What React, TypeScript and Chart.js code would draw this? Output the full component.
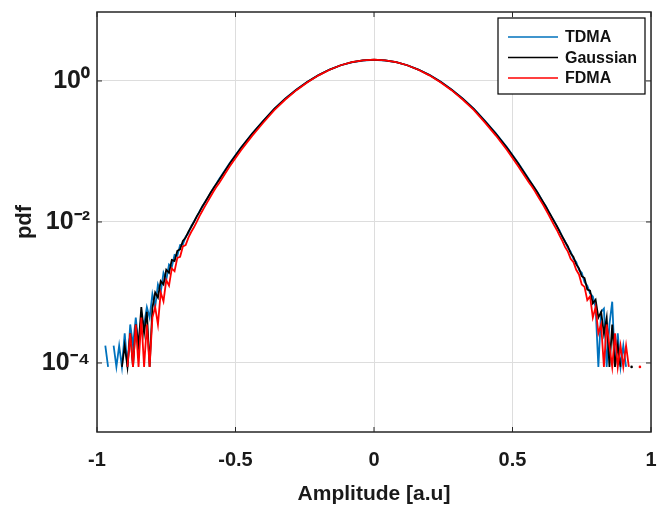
import { useEffect, useRef } from "react";
import { Chart, registerables } from "chart.js";

Chart.register(...registerables);

const FONT = "'Liberation Sans', Arial, Helvetica, sans-serif";

// ---- data ----
const seriesNames = ["TDMA", "Gaussian", "FDMA"];
const seriesColors = ["#0072BD", "#000000", "#FF0000"];

const xTickValues = [-1, -0.5, 0, 0.5, 1];
const xTickLabels = ["-1", "-0.5", "0", "0.5", "1"];
const yTickValues = [1e-4, 1e-2, 1];
const yTickLabels = ["10⁻⁴", "10⁻²", "10⁰"];

const xLeftTail = [-0.97, -0.96, -0.95, -0.94, -0.93, -0.92, -0.91, -0.9, -0.89, -0.88, -0.87, -0.86, -0.85, -0.84, -0.83, -0.82, -0.81, -0.8, -0.79, -0.78, -0.77, -0.76, -0.75, -0.74, -0.73, -0.72, -0.71, -0.7, -0.69, -0.68, -0.67, -0.66, -0.65, -0.64, -0.63, -0.62, -0.61, -0.6, -0.59, -0.58, -0.57];
const xBody = [-0.56, -0.52, -0.48, -0.44, -0.4, -0.36, -0.32, -0.28, -0.24, -0.2, -0.16, -0.12, -0.08, -0.04, 0, 0.04, 0.08, 0.12, 0.16, 0.2, 0.24, 0.28, 0.32, 0.36, 0.4, 0.44, 0.48, 0.52, 0.56];
const xRightTail = [0.57, 0.58, 0.59, 0.6, 0.61, 0.62, 0.63, 0.64, 0.65, 0.66, 0.67, 0.68, 0.69, 0.7, 0.71, 0.72, 0.73, 0.74, 0.75, 0.76, 0.77, 0.78, 0.79, 0.8, 0.81, 0.82, 0.83, 0.84, 0.85, 0.86, 0.87, 0.88, 0.89, 0.9, 0.91, 0.92, 0.93, 0.94, 0.95, 0.96, 0.97];

const tdmaLeft = [1.76e-4, 8.8e-5, null, 1.76e-4, 8.8e-5, 1.76e-4, 8.8e-5, 2.64e-4, 8.8e-5, 3.52e-4, 1.76e-4, 4.4e-4, 1.76e-4, 4.4e-4, 3.52e-4, 6.2e-4, 4.4e-4, 9.5e-4, 6.2e-4, 1.3e-3, 1.0e-3, 1.9e-3, 1.5e-3, 2.5e-3, 2.3e-3, 3.4e-3, 3.3e-3, 4.7e-3, 4.8e-3, 6.2e-3, 6.9e-3, 8.7e-3, 0.0101, 0.0118, 0.0141, 0.0163, 0.0192, 0.0221, 0.0258, 0.03, 0.0342];
const tdmaBody = [0.04, 0.069, 0.114, 0.18, 0.272, 0.4, 0.565, 0.755, 0.975, 1.21, 1.45, 1.67, 1.84, 1.95, 1.99, 1.95, 1.85, 1.67, 1.45, 1.22, 0.98, 0.755, 0.565, 0.405, 0.273, 0.18, 0.115, 0.069, 0.04];
const tdmaRight = [0.0346, 0.0302, 0.0263, 0.0226, 0.0192, 0.0168, 0.0142, 0.012, 0.0104, 0.0087, 0.0075, 0.0061, 0.0053, 0.0043, 0.0038, 0.003, 0.0027, 0.0021, 0.0019, 0.0014, 0.00125, 0.00097, 0.00088, 0.00062, 8.8e-5, 5.3e-4, 5.9e-4, 8.8e-5, 3.52e-4, 7.4e-4, 8.8e-5, 2.64e-4, 8.8e-5, 1.76e-4, 8.8e-5, null, null, null, null, null, null];

const gaussLeft = [null, null, null, null, null, null, 8.8e-5, 1.76e-4, 8.8e-5, 2.64e-4, 8.8e-5, 3.52e-4, 1.76e-4, 6.2e-4, 2.64e-4, 5.3e-4, 8.8e-5, 6.0e-4, 1.0e-3, 8.5e-4, 1.45e-3, 1.3e-3, 2.1e-3, 1.9e-3, 2.9e-3, 2.8e-3, 3.9e-3, 4.1e-3, 5.4e-3, 6.0e-3, 7.3e-3, 8.5e-3, 0.01, 0.012, 0.0139, 0.0166, 0.019, 0.0222, 0.026, 0.0298, 0.0344];
const gaussBody = [0.039, 0.068, 0.113, 0.178, 0.27, 0.4, 0.56, 0.75, 0.97, 1.21, 1.45, 1.67, 1.85, 1.96, 2.0, 1.96, 1.85, 1.67, 1.45, 1.21, 0.97, 0.75, 0.56, 0.4, 0.27, 0.178, 0.113, 0.068, 0.039];
const gaussRight = [0.0344, 0.03, 0.0262, 0.0224, 0.0193, 0.0166, 0.0141, 0.0121, 0.0102, 0.0088, 0.0073, 0.0062, 0.0052, 0.0045, 0.0036, 0.0032, 0.0025, 0.0022, 0.0017, 0.0016, 0.0011, 0.00106, 0.0007, 0.00079, 0.00044, 0.00053, 0.00026, 0.00044, 8.8e-5, 3.52e-4, 8.8e-5, 1.76e-4, 8.8e-5, null, null, null, 8.8e-5, null, null, null, null];

const fdmaLeft = [null, null, null, null, null, null, null, null, 8.8e-5, 2.64e-4, 8.8e-5, 3.52e-4, 8.8e-5, 4.4e-4, 8.8e-5, 3.52e-4, 8.8e-5, 4.4e-4, 6.2e-4, 3.5e-4, 1.0e-3, 7.5e-4, 1.5e-3, 1.25e-3, 2.2e-3, 2.0e-3, 3.1e-3, 3.2e-3, 4.5e-3, 4.7e-3, 6.0e-3, 7.2e-3, 8.4e-3, 0.01, 0.0121, 0.0143, 0.0168, 0.0196, 0.023, 0.0268, 0.031];
const fdmaBody = [0.035, 0.062, 0.104, 0.166, 0.255, 0.385, 0.545, 0.74, 0.96, 1.2, 1.44, 1.67, 1.85, 1.96, 2.01, 1.96, 1.85, 1.67, 1.44, 1.2, 0.96, 0.74, 0.545, 0.388, 0.258, 0.168, 0.105, 0.062, 0.036];
const fdmaRight = [0.0318, 0.0276, 0.0238, 0.0204, 0.0176, 0.015, 0.0127, 0.0107, 0.009, 0.0077, 0.0064, 0.0054, 0.0044, 0.0038, 0.003, 0.0027, 0.0021, 0.0018, 0.0013, 0.0012, 0.00078, 0.00088, 0.00044, 0.00062, 2.64e-4, 3.52e-4, 8.8e-5, 3.52e-4, 1.76e-4, 8.8e-5, 2.64e-4, 8.8e-5, 1.76e-4, 8.8e-5, 1.76e-4, 8.8e-5, null, null, null, 8.8e-5, null];

const framePlugin = {
  id: "frame",
  afterDraw(chart: any) {
    const { ctx, chartArea, scales } = chart;
    const { left, right, top, bottom } = chartArea;
    ctx.save();
    const line = (x1: number, y1: number, x2: number, y2: number) => {
      ctx.beginPath();
      ctx.moveTo(x1, y1);
      ctx.lineTo(x2, y2);
      ctx.stroke();
    };
    ctx.strokeStyle = "#262626";
    ctx.lineWidth = 1;
    xTickValues.forEach((v) => {
      const px = scales.x.getPixelForValue(v);
      line(px, bottom, px, bottom - 5);
      line(px, top, px, top + 5);
    });
    yTickValues.forEach((v) => {
      const py = scales.y.getPixelForValue(v);
      line(left, py, left + 5, py);
      line(right, py, right - 5, py);
    });
    ctx.lineWidth = 1.5;
    ctx.strokeRect(left, top, right - left, bottom - top);

    // legend box
    const bw = 147;
    const bh = 76;
    const bx = right - 6 - bw;
    const by = top + 6;
    ctx.fillStyle = "#ffffff";
    ctx.fillRect(bx, by, bw, bh);
    ctx.strokeStyle = "#000000";
    ctx.lineWidth = 1.2;
    ctx.strokeRect(bx, by, bw, bh);
    ctx.font = "bold 16px " + FONT;
    ctx.textBaseline = "middle";
    ctx.textAlign = "left";
    const rows = [19, 39.5, 60];
    seriesNames.forEach((name, i) => {
      const yy = by + rows[i];
      ctx.strokeStyle = seriesColors[i];
      ctx.lineWidth = 1.5;
      line(bx + 10, yy, bx + 60, yy);
      ctx.fillStyle = "#111111";
      ctx.fillText(name, bx + 67, yy + 1);
    });
    ctx.restore();
  },
};

function build(l: (number | null)[], b: (number | null)[], r: (number | null)[]) {
  const xs = [...xLeftTail, ...xBody, ...xRightTail];
  const ys = [...l, ...b, ...r];
  return xs.map((x, i) => ({ x, y: ys[i] }));
}

export default function App() {
  const ref = useRef<HTMLCanvasElement>(null);
  useEffect(() => {
    if (!ref.current) return;
    Chart.defaults.font.family = FONT;
    const isolatedRadius = (c: any) => {
      const d = c.dataset.data;
      const i = c.dataIndex;
      if (!d[i] || d[i].y == null) return 0;
      const p = d[i - 1] ? d[i - 1].y : null;
      const n = d[i + 1] ? d[i + 1].y : null;
      return p == null && n == null ? 1.3 : 0;
    };
    const seriesData = [
      build(tdmaLeft, tdmaBody, tdmaRight),
      build(gaussLeft, gaussBody, gaussRight),
      build(fdmaLeft, fdmaBody, fdmaRight),
    ];
    const chart = new Chart(ref.current, {
      type: "line",
      data: {
        datasets: seriesNames.map((name, i) => ({
          label: name,
          data: seriesData[i],
          borderColor: seriesColors[i],
          backgroundColor: seriesColors[i],
          borderWidth: 1.8,
          pointRadius: isolatedRadius,
          pointBorderWidth: 0,
          pointBackgroundColor: seriesColors[i],
          tension: 0,
          spanGaps: false,
          order: 3 - i,
        })),
      },
      options: {
        responsive: false,
        animation: false,
        layout: { padding: { top: 12, right: 19, left: 0, bottom: 0 } },
        plugins: { legend: { display: false }, tooltip: { enabled: false } },
        scales: {
          x: {
            type: "linear",
            min: -1,
            max: 1,
            afterBuildTicks: (s: any) => {
              s.ticks = xTickValues.map((v) => ({ value: v }));
            },
            afterFit: (s: any) => {
              s.height = 77;
              s.paddingLeft = 0;
              s.paddingRight = 0;
            },
            ticks: {
              autoSkip: false,
              maxRotation: 0,
              padding: 16,
              color: "#1a1a1a",
              font: { size: 20, weight: "bold", family: FONT },
              callback: (_v: any, i: number) => xTickLabels[i],
            },
            grid: { color: "#dddddd", lineWidth: 1, drawTicks: false },
            border: { display: false },
            title: {
              display: true,
              text: "Amplitude [a.u]",
              color: "#1a1a1a",
              font: { size: 21, weight: "bold", family: FONT },
              padding: { top: 4, bottom: 2 },
            },
          },
          y: {
            type: "logarithmic",
            min: 1.05e-5,
            max: 9.5,
            afterBuildTicks: (s: any) => {
              s.ticks = yTickValues.map((v) => ({ value: v }));
            },
            afterFit: (s: any) => {
              s.width = 97;
              s.paddingTop = 0;
              s.paddingBottom = 0;
            },
            ticks: {
              autoSkip: false,
              padding: 7,
              color: "#1a1a1a",
              font: { size: 25, weight: "bold", family: FONT },
              callback: (_v: any, i: number) => yTickLabels[i],
            },
            grid: { color: "#dddddd", lineWidth: 1, drawTicks: false },
            border: { display: false },
            title: {
              display: true,
              text: "pdf",
              color: "#1a1a1a",
              font: { size: 22, weight: "bold", family: FONT },
              padding: { top: 12, bottom: 0 },
            },
          },
        },
      },
      plugins: [framePlugin],
    });
    return () => chart.destroy();
  }, []);
  return (
    <div style={{ position: "fixed", left: 0, top: 0, width: 670, height: 509, background: "#ffffff" }}>
      <canvas ref={ref} width={670} height={509} />
    </div>
  );
}
